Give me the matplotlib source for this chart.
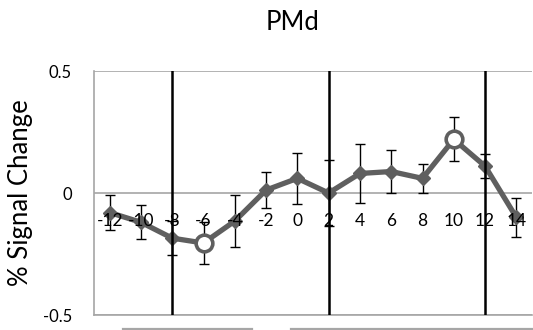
import matplotlib
matplotlib.use("Agg")
import matplotlib.pyplot as plt
import numpy as np

plt.rcParams['font.family'] = ['Lato', 'DejaVu Sans']

# time points (s) and mean % signal change with error bars
tiempos = ['-12', '-10', '-8', '-6', '-4', '-2', '0', '2', '4', '6', '8', '10', '12', '14']
senal = [-0.08, -0.12, -0.185, -0.205, -0.115, 0.012, 0.06, 0.0, 0.08, 0.088, 0.06, 0.22, 0.11, -0.10]
erro = [0.07, 0.07, 0.07, 0.085, 0.105, 0.073, 0.105, 0.135, 0.12, 0.09, 0.06, 0.09, 0.05, 0.08]
# points drawn as open circles
destaque = ['-6', '10']
# event markers (vertical lines)
eventos = ['-8', '2', '12']

x = np.arange(len(tiempos))
cinza = '#5f5f5f'

fig = plt.figure(figsize=(5.33, 3.30), dpi=100)
ax = fig.add_axes([94/533, 15/330, 438/533, 244/330])

ax.errorbar(x, senal, yerr=erro, fmt='none', ecolor='black', elinewidth=1,
            capsize=3.5, capthick=1, zorder=2)
ax.plot(x, senal, color=cinza, lw=3.8, marker='D', ms=7.5, mfc=cinza, mec=cinza, zorder=3)
idx = [tiempos.index(t) for t in destaque]
ax.plot(x[idx], np.array(senal)[idx], ls='none', marker='o', ms=12, mfc='white',
        mec=cinza, mew=2.6, zorder=4)

for t in eventos:
    ax.axvline(tiempos.index(t), color='black', lw=1.8, zorder=5)

ax.set_xlim(-0.5, len(tiempos) - 0.5)
ax.set_ylim(-0.5, 0.5)
ax.set_yticks([-0.5, 0, 0.5])
ax.set_yticklabels(['-0.5', '0', '0.5'], fontsize=12)
ax.yaxis.grid(True, color='#a6a6a6', lw=1.2)
ax.set_axisbelow(True)
ax.tick_params(axis='y', length=0, pad=16)
ax.set_xticks([])
for s in ['top', 'right']:
    ax.spines[s].set_visible(False)
for s in ['left', 'bottom']:
    ax.spines[s].set_color('#a6a6a6')
    ax.spines[s].set_linewidth(1.2)

for i, t in enumerate(tiempos):
    ax.annotate(t, xy=(i, 0), xytext=(0, -28), textcoords='offset pixels',
                ha='center', va='center', fontsize=12.5, zorder=6)

ax.set_ylabel('% Signal Change', fontsize=18.5)
ax.yaxis.set_label_coords(-0.14, 0.5)

fig.text(293/533, 1 - 22/330, 'PMd', ha='center', va='center', fontsize=18.5)

# gray brackets at the bottom edge (cut off)
for x0, x1 in [(123, 252), (291, 533)]:
    fig.add_artist(plt.Line2D([x0/533, x1/533], [1.5/330, 1.5/330], color='#a6a6a6', lw=1.6))

fig.savefig('out.png', dpi=100)
